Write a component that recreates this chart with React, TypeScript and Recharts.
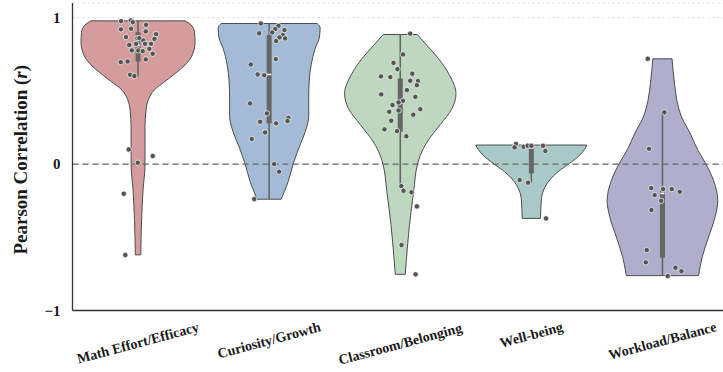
import { ComposedChart, Area, Scatter, XAxis, YAxis, ReferenceLine, CartesianGrid, Label } from 'recharts';

const FONT = '"Liberation Serif", "Times New Roman", serif';

const CATEGORIES = ['Math Effort/Efficacy', 'Curiosity/Growth', 'Classroom/Belonging', 'Well-being', 'Workload/Balance'];
const COLORS = ['#D49C9C', '#A3BBD6', '#BED8C0', '#A8C9C6', '#AFAECC'];
const Y_TICKS = [-1, 0, 1];

// violin outline, top to bottom: [r, half width in category units]
const mathViolin = [
  [0.978, 0.359], [0.95, 0.405], [0.9, 0.431], [0.83, 0.435], [0.78, 0.427], [0.73, 0.405],
  [0.7, 0.382], [0.64, 0.313], [0.57, 0.214], [0.505, 0.122], [0.44, 0.079], [0.37, 0.061],
  [0.25, 0.053], [0.1, 0.053], [0.0, 0.053], [-0.18, 0.038], [-0.38, 0.027], [-0.62, 0.021],
];
const curiosityViolin = [
  [0.96, 0.366], [0.93, 0.389], [0.86, 0.382], [0.79, 0.351], [0.68, 0.321], [0.56, 0.305],
  [0.45, 0.302], [0.33, 0.302], [0.22, 0.275], [0.107, 0.225], [0.0, 0.183], [-0.12, 0.145],
  [-0.19, 0.115], [-0.24, 0.092],
];
const classroomViolin = [
  [0.885, 0.13], [0.81, 0.204], [0.72, 0.292], [0.61, 0.374], [0.48, 0.425], [0.38, 0.395],
  [0.27, 0.305], [0.15, 0.204], [0.06, 0.153], [0.0, 0.132], [-0.19, 0.102], [-0.42, 0.07],
  [-0.64, 0.048], [-0.753, 0.038],
];
const wellbeingViolin = [
  [0.13, 0.424], [0.1, 0.405], [0.061, 0.369], [0.005, 0.292], [-0.052, 0.204], [-0.109, 0.14],
  [-0.177, 0.094], [-0.246, 0.076], [-0.371, 0.07],
];
const workloadViolin = [
  [0.719, 0.073], [0.55, 0.092], [0.44, 0.109], [0.32, 0.147], [0.21, 0.211], [0.1, 0.267],
  [0.0, 0.332], [-0.11, 0.389], [-0.25, 0.422], [-0.36, 0.402], [-0.5, 0.351], [-0.63, 0.305],
  [-0.762, 0.275],
];
const VIOLINS = [mathViolin, curiosityViolin, classroomViolin, wellbeingViolin, workloadViolin];

// inner box: [lower whisker, q1, median, q3, upper whisker]
const BOXES = [
  [0.596, 0.7, 0.81, 0.9, 0.978],
  [-0.24, 0.278, 0.612, 0.881, 0.96],
  [-0.15, 0.22, 0.42, 0.585, 0.885],
  [-0.127, -0.064, 0.11, 0.118, 0.13],
  [-0.762, -0.64, -0.2, -0.177, 0.357],
];

// individual correlations: [jitter, r]
const mathPoints = [
  [-0.13, 0.976], [-0.055, 0.981], [-0.04, 0.969], [0.061, 0.951], [-0.13, 0.92], [-0.053, 0.924],
  [0.059, 0.906], [0.138, 0.887], [0.125, 0.855], [-0.092, 0.867], [-0.005, 0.86], [0.01, 0.86],
  [0.04, 0.844], [-0.067, 0.814], [-0.015, 0.821], [0.053, 0.821], [0.099, 0.821], [-0.048, 0.776],
  [0.002, 0.776], [0.036, 0.771], [0.086, 0.787], [0.112, 0.753], [-0.132, 0.696], [-0.079, 0.701],
  [0.059, 0.715], [-0.061, 0.61], [-0.028, 0.601], [-0.071, 0.1], [0.112, 0.055], [-0.002, 0.009],
  [-0.109, -0.203], [-0.097, -0.621],
];
const curiosityPoints = [
  [-0.063, 0.96], [0.071, 0.944], [0.046, 0.922], [0.117, 0.915], [0.023, 0.899], [-0.076, 0.893],
  [0.105, 0.881], [0.079, 0.865], [0.122, 0.858], [0.053, 0.84], [0.051, 0.717], [-0.14, 0.68],
  [-0.088, 0.612], [-0.038, 0.607], [-0.145, 0.414], [-0.017, 0.346], [0.147, 0.316], [0.14, 0.294],
  [-0.069, 0.289], [0.053, 0.278], [-0.031, 0.216], [-0.132, 0.171], [0.038, 0.0], [0.076, -0.052],
  [-0.114, -0.239],
];
const classroomPoints = [
  [0.076, 0.891], [0.021, 0.749], [-0.051, 0.691], [-0.021, 0.648], [-0.147, 0.599], [-0.076, 0.594],
  [0.092, 0.617], [0.076, 0.569], [0.135, 0.567], [0.127, 0.539], [0.051, 0.505], [-0.145, 0.476],
  [0.115, 0.459], [0.021, 0.432], [-0.013, 0.421], [-0.059, 0.403], [0.153, 0.375], [-0.013, 0.366],
  [-0.084, 0.357], [0.099, 0.337], [-0.069, 0.296], [-0.12, 0.237], [-0.025, 0.225], [0.046, 0.19],
  [0.008, -0.15], [0.025, -0.182], [0.086, -0.193], [0.127, -0.289], [0.01, -0.553], [0.117, -0.753],
];
const wellbeingPoints = [
  [-0.117, 0.137], [-0.128, 0.114], [-0.059, 0.118], [-0.028, 0.125], [0.0, 0.125], [0.089, 0.125],
  [0.107, 0.089], [-0.089, -0.109], [-0.025, -0.127], [0.112, -0.371],
];
const workloadPoints = [
  [-0.112, 0.719], [0.015, 0.353], [-0.102, 0.104], [0.005, -0.171], [-0.086, -0.164], [0.071, -0.171],
  [0.132, -0.189], [-0.059, -0.212], [-0.01, -0.251], [-0.084, -0.314], [-0.12, -0.587], [-0.127, -0.671],
  [0.099, -0.708], [0.145, -0.732], [0.04, -0.765],
];
const POINTS = [mathPoints, curiosityPoints, classroomPoints, wellbeingPoints, workloadPoints];

// vertical centre (pixels) of each slanted category name
const LABEL_CY = [343, 340.5, 344, 335, 341];

const violinData = VIOLINS.map((prof, i) =>
  [...prof].reverse().map(([v, hw]) => ({ v, span: [i - hw, i + hw] }))
);
const pointData = POINTS.flatMap((pts, i) => pts.map(([dx, v]) => ({ x: i + dx, v })));

function CategoryTick(props: any) {
  const { x, payload } = props;
  const i = Math.round(payload.value);
  const cy = LABEL_CY[i];
  return (
    <text x={x} y={cy} textAnchor="middle" dominantBaseline="central"
      transform={`rotate(-15 ${x} ${cy})`}
      fontFamily={FONT} fontWeight="bold" fontSize={14} fill="#1a1a1a">
      {CATEGORIES[i]}
    </text>
  );
}

function YTitle(props: any) {
  const vb = props.viewBox || {};
  const cx = 20;
  const cy = (vb.y ?? 0) + (vb.height ?? 0) / 2 + 3;
  return (
    <text x={cx} y={cy} textAnchor="middle" dominantBaseline="central"
      transform={`rotate(-90 ${cx} ${cy})`}
      fontFamily={FONT} fontWeight="bold" fontSize={19} fill="#1a1a1a">
      Pearson Correlation (<tspan fontStyle="italic">r</tspan>)
    </text>
  );
}

const Dot = (p: any) => (
  <circle cx={p.cx} cy={p.cy} r={2.7} fill="#555" stroke="#fff" strokeWidth={0.7} />
);

export default function App() {
  return (
    <div style={{ position: 'absolute', left: 0, top: 0, width: 723, height: 372, overflow: 'hidden', background: '#fff' }}>
      <ComposedChart width={728} height={372} layout="vertical"
        margin={{ top: 3, right: 0, bottom: 0, left: 0 }}>
        <CartesianGrid horizontal vertical={false} stroke="#d9d9d9" strokeDasharray="2 3" />
        <XAxis type="number" dataKey="x" domain={[-0.5, 4.5]} ticks={[0, 1, 2, 3, 4]}
          allowDataOverflow interval={0} height={61.5}
          axisLine={{ stroke: '#333', strokeWidth: 1.3 }} tickLine={false}
          tick={<CategoryTick />} />
        <YAxis type="number" dataKey="v" domain={[-1, 1.1]} ticks={Y_TICKS} reversed
          allowDataOverflow width={72.5} tickSize={0} tickMargin={12}
          axisLine={{ stroke: '#333', strokeWidth: 1.3 }} tickLine={false}
          tickFormatter={(t: number) => (t < 0 ? '\u2212' + Math.abs(t) : String(t))}
          tick={{ fontFamily: FONT, fontWeight: 'bold', fontSize: 15, fill: '#1a1a1a' }}>
          <Label content={<YTitle />} />
        </YAxis>

        {violinData.map((d, i) => (
          <Area key={'v' + i} data={d} dataKey="span" type="monotone"
            fill={COLORS[i]} fillOpacity={1} stroke="#4d4d4d" strokeWidth={1}
            dot={false} activeDot={false} isAnimationActive={false} />
        ))}
        {VIOLINS.map((prof, i) => {
          const top = prof[0];
          const bot = prof[prof.length - 1];
          return [top, bot].map(([v, hw], k) => (
            <ReferenceLine key={`e${i}-${k}`} segment={[{ x: i - hw, y: v }, { x: i + hw, y: v }]}
              stroke="#4d4d4d" strokeWidth={1} />
          ));
        })}

        <ReferenceLine y={0} stroke="#666" strokeWidth={1.3} strokeDasharray="6 4" />

        {BOXES.map(([lo, q1, med, q3, hi], i) => [
          <ReferenceLine key={`w${i}`} segment={[{ x: i, y: lo }, { x: i, y: hi }]}
            stroke="#666" strokeWidth={1.6} />,
          <ReferenceLine key={`b${i}`} segment={[{ x: i, y: q1 }, { x: i, y: q3 }]}
            stroke="#666" strokeWidth={5} />,
          <ReferenceLine key={`m${i}`} segment={[{ x: i - 0.016, y: med }, { x: i + 0.016, y: med }]}
            stroke="#fff" strokeWidth={1.5} />,
        ])}

        <Scatter data={pointData} shape={<Dot />} isAnimationActive={false} />
      </ComposedChart>
    </div>
  );
}
